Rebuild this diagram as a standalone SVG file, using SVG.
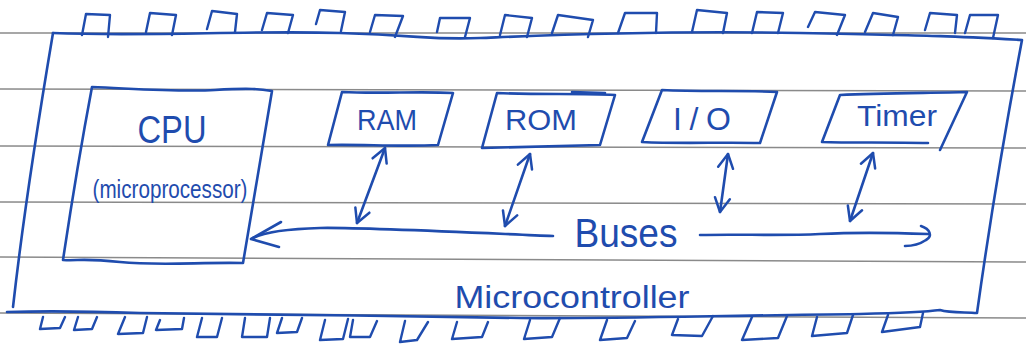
<svg xmlns="http://www.w3.org/2000/svg" width="1026" height="345" viewBox="0 0 1026 345">
  <style>
    .rule { stroke: #8a8a8a; stroke-width: 1.5; fill: none; }
    .ink { stroke: #1f4cae; stroke-width: 2.6; fill: none; stroke-linecap: round; stroke-linejoin: round; }
    .pin { stroke: #1f4cae; stroke-width: 2.4; fill: none; stroke-linecap: round; stroke-linejoin: round; }
    .label { fill: #1f4cae; font-family: "Liberation Sans", Arial, sans-serif; text-anchor: middle; }
  </style>
  <defs>
    <marker id="head" viewBox="-16 -16 32 32" markerWidth="32" markerHeight="32" refX="0" refY="0" markerUnits="userSpaceOnUse" orient="auto-start-reverse" overflow="visible">
      <path d="M-14,-8 L0,0 L-14,7" fill="none" stroke="#1f4cae" stroke-width="2.5" stroke-linecap="round" stroke-linejoin="round"/>
    </marker>
  </defs>

  <rect width="1026" height="345" fill="#ffffff"/>

  <!-- ruled notebook lines -->
  <g id="paper">
    <path class="rule" d="M0,33 L1026,33"/>
    <path class="rule" d="M0,89 L1026,91"/>
    <path class="rule" d="M0,146 L1026,148"/>
    <path class="rule" d="M0,202 L1026,204"/>
    <path class="rule" d="M0,257 L1026,262"/>
    <path class="rule" d="M0,313 L1026,318"/>
  </g>

  <!-- chip package outline with its pins -->
  <g id="microcontroller">
    <path class="ink" d="M53,33 C150,37 250,30 340,33 S430,40 480,38 S650,30 800,33 S950,36 1022,40 C1005,130 990,220 977,313 C965,312 950,313 940,310 C925,312 900,313 860,314 C700,316 600,319 520,318 C400,316 250,314 140,313 C80,311 40,311 7,312"/>
    <path class="ink" d="M13,307 C25,200 40,110 53,33"/>
    <path class="pin" d="M82,35 L86,14 L110,15 L108,37 M146,32 L150,13 L176,15 L172,35 M207,29 L212,11 L237,14 L235,32 M262,30 L267,13 L293,15 L288,33 M316,24 L320,10 L345,12 L341,31 M370,32 L375,15 L403,16 L395,37 M437,32 L440,18 L470,18 L465,37 M500,35 L505,15 L532,18 L527,37 M552,33 L558,15 L593,20 L588,37 M618,33 L625,13 L657,13 L656,33 M692,32 L697,10 L727,13 L723,33 M752,33 L757,12 L783,13 L778,33 M808,27 L815,12 L845,15 L837,35 M865,32 L873,13 L898,17 L893,35 M925,30 L930,13 L957,15 L955,33 M965,33 L970,15 L998,15 L993,38"/>
    <path class="pin" d="M43,317 L40,329 L60,328 L65,317 M78,317 L74,330 L92,329 L97,317 M125,317 L118,334 L143,333 L147,317 M160,320 L156,330 L182,329 L184,318 M202,318 L197,337 L217,337 L222,318 M245,318 L242,337 L267,337 L270,318 M282,318 L277,333 L297,332 L302,318 M325,320 L320,340 L343,339 L348,319 M353,320 L350,337 L370,337 L377,321 M405,321 L400,342 L417,340 L428,322 M457,322 L452,339 L482,337 L488,322 M530,320 L524,339 L552,337 L560,318 M607,320 L600,340 L627,338 L635,321 M678,319 L672,335 L702,336 L713,316 M752,317 L742,340 L778,338 L787,316 M817,317 L812,336 L847,333 L853,315 M888,315 L882,332 L920,327 L923,313"/>
    <text class="label" x="572" y="308" font-size="31" textLength="235" lengthAdjust="spacingAndGlyphs">Microcontroller</text>
  </g>

  <g id="cpu">
    <path class="ink" d="M92,87 C140,89 180,92 215,90 S260,89 272,91 C262,150 252,210 243,263 C200,262 160,266 120,262 S80,261 63,260 C72,200 82,140 92,87 Z"/>
    <text class="label" x="172" y="143" font-size="38" textLength="69" lengthAdjust="spacingAndGlyphs">CPU</text>
    <text class="label" x="170" y="198" font-size="26" textLength="155" lengthAdjust="spacingAndGlyphs">(microprocessor)</text>
  </g>

  <g id="ram">
    <path class="ink" d="M342,92 C380,94 420,91 453,93 L438,145 C400,147 360,144 328,145 Z"/>
    <text class="label" x="387" y="130" font-size="30" textLength="60" lengthAdjust="spacingAndGlyphs">RAM</text>
  </g>

  <g id="rom">
    <path class="ink" d="M497,93 C540,95 580,93 615,95 L600,145 C560,146 520,147 482,148 Z"/>
    <path class="ink" d="M572,92 L605,93"/>
    <text class="label" x="541" y="130" font-size="30" textLength="72" lengthAdjust="spacingAndGlyphs">ROM</text>
  </g>

  <g id="io">
    <path class="ink" d="M662,90 C700,92 740,90 777,92 L760,143 C720,142 680,144 642,142 Z"/>
    <text class="label" x="702" y="130" font-size="32" textLength="58" lengthAdjust="spacing">I/O</text>
  </g>

  <g id="timer">
    <path class="ink" d="M928,143 C890,142 850,143 822,142 L840,95 C880,93 930,93 967,92 L940,150"/>
    <text class="label" x="897" y="126" font-size="30" textLength="80" lengthAdjust="spacingAndGlyphs">Timer</text>
  </g>

  <!-- bus lines and the links from each block to the bus -->
  <g id="connectors">
    <path class="ink" d="M253,238 C265,232 285,229 320,228 S480,233 553,236"/>
    <path class="ink" d="M281,222 L251,239 L279,247"/>
    <path class="ink" d="M700,235 C740,234 780,236 820,234 S900,233 928,234"/>
    <path class="ink" d="M921,226 C930,229 933,236 926,240 C920,244 912,246 905,246"/>
    <text class="label" x="626" y="247" font-size="40" textLength="103" lengthAdjust="spacingAndGlyphs">Buses</text>
    <path class="ink" d="M385,148 L357,223" marker-start="url(#head)" marker-end="url(#head)"/>
    <path class="ink" d="M530,154 L505,226" marker-start="url(#head)" marker-end="url(#head)"/>
    <path class="ink" d="M728,154 L720,212" marker-start="url(#head)" marker-end="url(#head)"/>
    <path class="ink" d="M873,153 L850,221" marker-start="url(#head)" marker-end="url(#head)"/>
  </g>
</svg>
